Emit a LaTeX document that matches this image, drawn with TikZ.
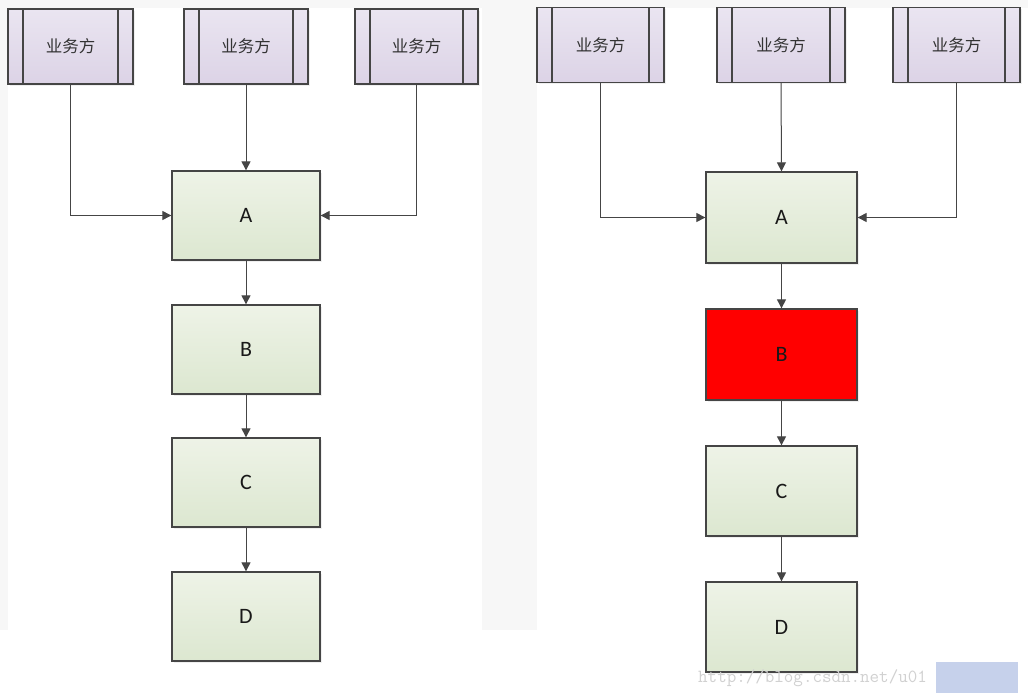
\documentclass[tikz,border=0pt]{standalone}
\usepackage{fontspec}
\setmainfont{Carlito}
\newfontfamily\cjk{Noto Sans CJK SC}
\usetikzlibrary{arrows.meta,shadows}
\definecolor{edge}{HTML}{454545}
\definecolor{pTop}{HTML}{EAE5F1}
\definecolor{pBot}{HTML}{DCD3E6}
\definecolor{gTop}{HTML}{EEF3E7}
\definecolor{gBot}{HTML}{DCE7D0}
\definecolor{bggray}{HTML}{F7F7F7}
\definecolor{stamp}{HTML}{B8C6E6}
\tikzset{
  party/.style={draw=edge, line width=1.3pt, top color=pTop, bottom color=pBot,
    minimum width=#1, minimum height=75pt, inner sep=0pt, font=\cjk\fontsize{16.5}{16.5}\selectfont, text=black!80,
    drop shadow={shadow xshift=2pt, shadow yshift=-2pt, opacity=0.12},
    path picture={\draw[edge, line width=1.3pt]
      ([xshift=15pt]path picture bounding box.north west) -- ([xshift=15pt]path picture bounding box.south west)
      ([xshift=-15pt]path picture bounding box.north east) -- ([xshift=-15pt]path picture bounding box.south east);}},
  stage/.style={draw=edge, line width=1.3pt, top color=gTop, bottom color=gBot,
    minimum width=148pt, minimum height=89pt, inner sep=0pt, font=\fontsize{22}{22}\selectfont, text=black!90,
    drop shadow={shadow xshift=2pt, shadow yshift=-2pt, opacity=0.12}},
  redstage/.style={stage, top color=red, bottom color=red, fill=red},
  conn/.style={draw=edge, line width=1pt, -{Triangle[length=9pt,width=9pt]}}
}
\begin{document}
\begin{tikzpicture}[x=1pt,y=-1pt]
\fill[white] (0,0) rectangle (1028,698);
\useasboundingbox (0,0) rectangle (1028,698);
% faint panel backgrounds
\fill[bggray] (0,0) rectangle (1028,8);
\fill[bggray] (0,0) rectangle (8,630);
\fill[bggray] (482,0) rectangle (537,630);
% ---------- left ----------
\node[party=125pt] (l1) at (70.5,46.5) {业务方};
\node[party=124pt] (l2) at (246,46.5) {业务方};
\node[party=123pt] (l3) at (416.5,46.5) {业务方};
\node[stage] (lA) at (246,215.5) {A};
\node[stage] (lB) at (246,349.5) {B};
\node[stage] (lC) at (246,482.5) {C};
\node[stage] (lD) at (246,616.5) {D};
\draw[conn] (l1.south) |- (lA.west);
\draw[conn] (l2.south) -- (lA.north);
\draw[conn] (l3.south) |- (lA.east);
\draw[conn] (lA) -- (lB);
\draw[conn] (lB) -- (lC);
\draw[conn] (lC) -- (lD);
% ---------- right ----------
\node[party=127pt] (r1) at (600.5,45) {业务方};
\node[party=128pt] (r2) at (781,45) {业务方};
\node[party=127pt] (r3) at (956.5,45) {业务方};
\node[stage, minimum width=151pt, minimum height=91pt] (rA) at (781.5,217.5) {A};
\node[redstage, minimum width=151pt, minimum height=91pt] (rB) at (781.5,354.5) {B};
\node[stage, minimum width=151pt, minimum height=90pt] (rC) at (781.5,491) {C};
\node[stage, minimum width=151pt, minimum height=90pt] (rD) at (781.5,627) {D};
\draw[conn] (r1.south) |- (rA.west);
\draw[conn] (r2.south) -- (rA.north);
\draw[conn] (r3.south) |- (rA.east);
\draw[conn] (rA) -- (rB);
\draw[conn] (rB) -- (rC);
\draw[conn] (rC) -- (rD);
% watermark
\node[anchor=west, inner sep=0pt, text=black!18, font=\ttfamily\fontsize{18.5}{18.5}\selectfont] (wm) at (698,678) {http://blog.csdn.net/u01};
\fill[stamp, opacity=0.8] (936,662) rectangle (1018,693);
\end{tikzpicture}
\end{document}
